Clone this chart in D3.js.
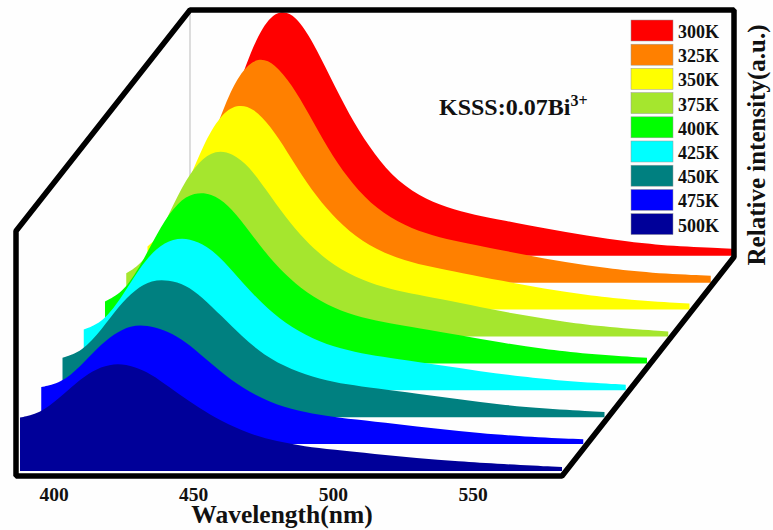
<!DOCTYPE html>
<html>
<head>
<meta charset="utf-8">
<script src="https://cdn.jsdelivr.net/npm/d3@7"></script>
<style>
  html, body { margin: 0; padding: 0; background: #fefefe; }
  text { font-family: "Liberation Serif", serif; font-weight: bold; fill: #111; }
</style>
</head>
<body>
<div id="chart"></div>
<script>
let w = 773
let h = 530

// data
let WAVELENGTHS = [388, 395, 402, 408, 414, 420, 426, 432, 438, 445, 452, 460, 470, 480, 490, 500, 515, 530, 545, 560, 582]
let TEMPS = ["300K", "325K", "350K", "375K", "400K", "425K", "450K", "475K", "500K"]
let COLORS = ["#ff0000", "#ff8000", "#ffff00", "#a5e62e", "#00ff00", "#00ffff", "#008080", "#0000ff", "#000099"]
let TICKS = [400, 450, 500, 550]

let I300 = [26, 37, 58, 79, 95, 101.6, 98.8, 88, 74, 58, 45, 33, 24.5, 19.8, 16.8, 14.6, 11.3, 8.2, 5.8, 4, 2.9]
let I325 = [24.8, 34.9, 54.2, 73.4, 87.5, 93, 90.2, 81.5, 69.8, 55.1, 43.1, 32.6, 24.8, 20.2, 17.2, 15, 11.6, 8.4, 5.9, 4, 2.9]
let I350 = [26, 33, 51, 68, 80, 84.7, 83, 75.5, 65, 52, 41.5, 32, 24.5, 20.2, 17.4, 15.2, 11.8, 8.6, 6, 4, 2.5]
let I375 = [26, 31, 47, 62, 72.2, 76.8, 75.5, 70, 60.5, 49, 39.5, 31, 24.3, 20.2, 17.6, 15.6, 12, 8.7, 6, 3.9, 2.1]
let I400 = [25.5, 29.5, 43, 56.5, 66.4, 70.4, 70, 65.4, 57, 46, 37, 29, 22.5, 18.8, 16.4, 14.6, 11.6, 8.5, 5.9, 3.9, 2.3]
let I425 = [25, 28, 39, 50.5, 58.6, 62.5, 62.5, 59.5, 53.5, 44, 35.5, 27.5, 21, 17, 14.6, 12.9, 10.4, 7.8, 5.6, 3.8, 2.3]
let I450 = [24.5, 27, 36, 45.5, 52.6, 56.5, 56.5, 54.5, 49.5, 41.5, 33.5, 25.5, 19.5, 15.7, 13.4, 11.9, 9.7, 7.3, 5.2, 3.5, 2.1]
let I475 = [23.5, 25, 32, 39.5, 45.4, 48.9, 48.9, 47, 43.5, 37, 30, 23, 17, 13.6, 11.6, 10.2, 8.3, 6.2, 4.5, 3.1, 2]
let I500 = [22, 23.5, 30, 36.2, 41.4, 44, 44, 41.6, 37.5, 31.5, 26, 20.5, 15.3, 12.1, 10.1, 8.8, 7, 5.3, 4, 2.9, 1.6]
let SERIES = [I300, I325, I350, I375, I400, I425, I450, I475, I500]

// waterfall offset between two neighbouring spectra
let stepX = 21.25
let stepY = 26.9
let baseY = 471

let svg = d3.select("#chart")
  .append("svg")
  .attr("width", w)
  .attr("height", h)
  .style("display", "block")

let x = d3.scaleLinear().domain([388, 582]).range([20, 562])
let y = d3.scaleLinear().domain([0, 100]).range([baseY, baseY - 243])

let area = d3.area()
  .x(d => x(d.wl))
  .y0(y(0))
  .y1(d => y(d.v))
  .curve(d3.curveBasis)

// thin back edge
svg.append("line")
  .attr("x1", 190).attr("x2", 190)
  .attr("y1", 10).attr("y2", 180)
  .attr("stroke", "#bbb")
  .attr("stroke-width", 1)

// spectra, back one first
svg.selectAll("path.spectrum")
  .data(SERIES)
  .enter()
  .append("path")
  .attr("class", "spectrum")
  .attr("d", vals => area(vals.map((v, i) => ({ wl: WAVELENGTHS[i], v: v }))))
  .attr("fill", (d, i) => COLORS[i])
  .attr("transform", (d, i) => "translate(" + ((8 - i) * stepX) + "," + (-(8 - i) * stepY) + ")")

// frame
let frame = [[16, 476], [16, 231], [190, 10], [734, 10], [734, 257], [562, 476]]
svg.append("path")
  .attr("d", d3.line()(frame) + "Z")
  .attr("fill", "none")
  .attr("stroke", "#000")
  .attr("stroke-width", 5.5)
  .attr("stroke-linejoin", "bevel")

// x axis
let xAxis = d3.axisBottom(x).tickValues(TICKS).tickSize(0).tickPadding(0)
let xG = svg.append("g")
  .attr("transform", "translate(0, 487)")
  .call(xAxis)
xG.select(".domain").remove()
xG.selectAll("text")
  .attr("font-size", 19.5)
  .style("font-family", '"Liberation Serif", serif')
  .style("font-weight", "bold")

svg.append("text")
  .attr("x", 282)
  .attr("y", 523)
  .attr("text-anchor", "middle")
  .attr("font-size", 25.5)
  .text("Wavelength(nm)")

svg.append("text")
  .attr("transform", "translate(765, 145) rotate(-90)")
  .attr("text-anchor", "middle")
  .attr("font-size", 25)
  .text("Relative intensity(a.u.)")

// sample label
let sample = svg.append("text")
  .attr("x", 439)
  .attr("y", 115)
  .attr("font-size", 24)
sample.append("tspan").text("KSSS:0.07Bi")
sample.append("tspan").attr("dy", -9).attr("font-size", 16).text("3+")

// legend
let legend = svg.selectAll("g.legend")
  .data(TEMPS)
  .enter()
  .append("g")
  .attr("class", "legend")
  .attr("transform", (d, i) => "translate(631, " + (20 + i * 24.2) + ")")

legend.append("rect")
  .attr("width", 42)
  .attr("height", 21)
  .attr("fill", (d, i) => COLORS[i])
  .attr("stroke", "#999")
  .attr("stroke-width", 0.5)

legend.append("text")
  .attr("x", 47)
  .attr("y", 18)
  .attr("font-size", 18)
  .text(d => d)
</script>
</body>
</html>
